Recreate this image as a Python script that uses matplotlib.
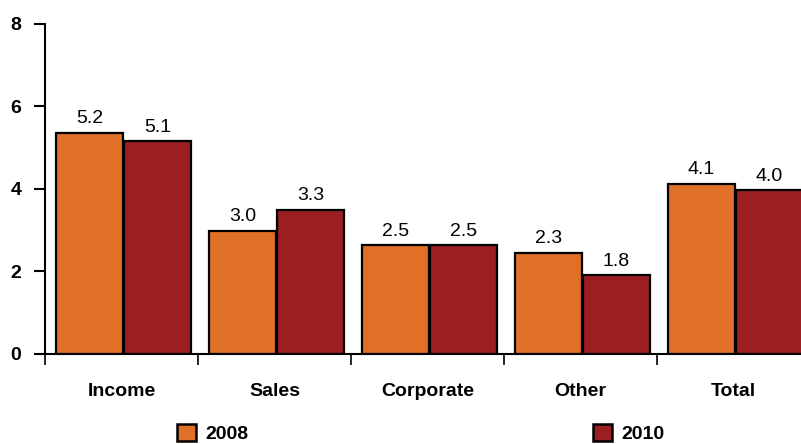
import matplotlib
matplotlib.use("Agg")
import matplotlib.pyplot as plt
import numpy as np
from matplotlib.patches import Patch

plt.rcParams['font.family'] = ['Liberation Sans', 'DejaVu Sans']

# === Data ===
categories = ["Income", "Sales", "Corporate", "Other", "Total"]
series_names = ["2008", "2010"]
# bar heights as drawn in the picture
heights_2008 = [5.36, 2.98, 2.63, 2.44, 4.12]
heights_2010 = [5.15, 3.49, 2.63, 1.90, 3.96]
# value labels as printed above the bars
labels_2008 = ["5.2", "3.0", "2.5", "2.3", "4.1"]
labels_2010 = ["5.1", "3.3", "2.5", "1.8", "4.0"]
y_ticks = [0, 2, 4, 6, 8]

COLOR_2008 = "#E07028"
COLOR_2010 = "#9B1F22"
FS = 14

fig = plt.figure(figsize=(8.01, 4.44), dpi=100)
ax = fig.add_axes([45 / 801, (444 - 353.5) / 444, 765 / 801, (353.5 - 24) / 444])

x = np.arange(len(categories))
width = 0.44
b1 = ax.bar(x - 0.21, heights_2008, width, color=COLOR_2008,
            edgecolor="black", linewidth=1.6)
b2 = ax.bar(x + 0.235, heights_2010, width, color=COLOR_2010,
            edgecolor="black", linewidth=1.6)

for bars, labels in [(b1, labels_2008), (b2, labels_2010)]:
    for rect, lab in zip(bars, labels):
        ax.annotate(lab, (rect.get_x() + rect.get_width() / 2, rect.get_height()),
                    xytext=(0, 4), textcoords="offset points",
                    ha="center", va="bottom", fontsize=FS)

ax.set_xlim(-0.5, len(categories) - 0.5)
ax.set_ylim(0, 8)
ax.set_yticks(y_ticks)
ax.set_yticklabels([str(t) for t in y_ticks], fontweight="bold", fontsize=FS)
ax.tick_params(axis="y", length=8, width=1.5, pad=9)

ax.set_xticks(x)
ax.set_xticklabels(categories, fontweight="bold", fontsize=FS)
ax.tick_params(axis="x", which="major", length=0, pad=21)
ax.set_xticks(np.arange(len(categories)) - 0.5, minor=True)
ax.tick_params(axis="x", which="minor", length=8, width=1.2)

for s in ["top", "right"]:
    ax.spines[s].set_visible(False)
ax.spines["left"].set_linewidth(1.5)
ax.spines["bottom"].set_linewidth(1.5)

# === Legend (two entries spread along the bottom) ===
for name, color, xpos in [("2008", COLOR_2008, 177 / 801), ("2010", COLOR_2010, 593 / 801)]:
    fig.legend(handles=[Patch(facecolor=color, edgecolor="black", linewidth=1.8, label=name)],
               loc="center left", bbox_to_anchor=(xpos, 0.024), frameon=False,
               borderpad=0, borderaxespad=0, handlelength=1.0, handleheight=1.0,
               handletextpad=0.45, prop={"weight": "bold", "size": FS})

fig.savefig("out.png", dpi=100)
